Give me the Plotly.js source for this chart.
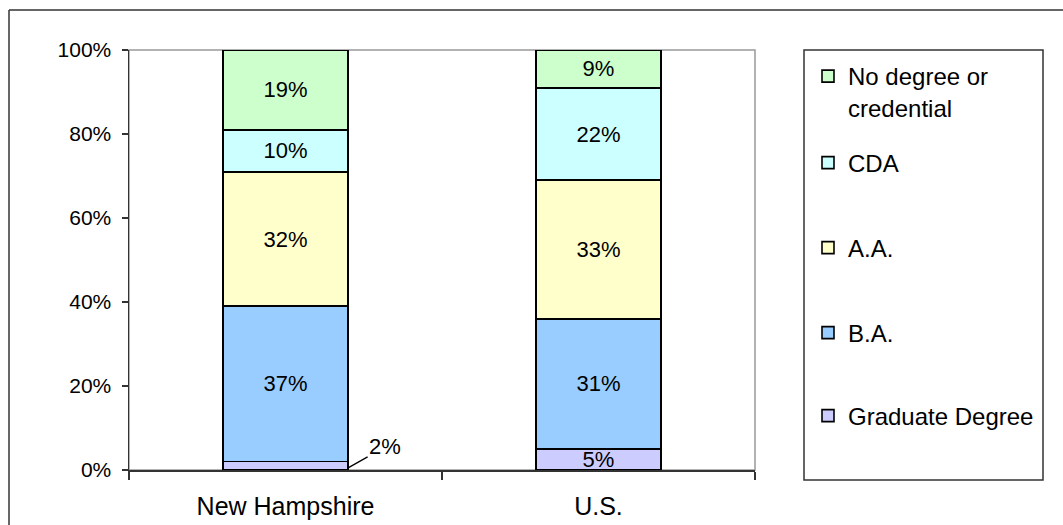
<!DOCTYPE html>
<html>
<head>
<meta charset="utf-8">
<script src="https://cdn.plot.ly/plotly-3.0.1.min.js"></script>
<style>
  html, body { margin: 0; padding: 0; background: #fff; }
  #chart { width: 1063px; height: 525px; }
</style>
</head>
<body>
<div id="chart"></div>
<script>
// ---- data ----
const categories = ["New Hampshire", "U.S."];
const seriesNames = ["Graduate Degree", "B.A.", "A.A.", "CDA", "No degree or<br>credential"];
const gradDegree = [2, 5];
const baDegree = [37, 31];
const aaDegree = [32, 33];
const cdaCredential = [10, 22];
const noDegree = [19, 9];
const tickValues = [0, 20, 40, 60, 80, 100];
const tickLabels = ["0%", "20%", "40%", "60%", "80%", "100%"];

// ---- styles ----
const colors = ["#CCCCFF", "#99CCFF", "#FFFFCC", "#CCFFFF", "#CCFFCC"];
const FONT = "Liberation Sans, Arial, sans-serif";
const seriesValues = [gradDegree, baDegree, aaDegree, cdaCredential, noDegree];

// plot area pixel geometry
const W = 1063, H = 525;
const L = 129, R = 755, T = 50, B = 470;
const px = v => (v - L) / (R - L);
const py = v => (B - v) / (B - T);

// legend item centre y (pixels) for each series
const legendY = [416, 333, 248, 163, 77];

const traces = seriesValues.map((vals, i) => ({
  type: "bar",
  name: seriesNames[i],
  x: categories,
  y: vals,
  text: vals.map((v, j) => (i === 0 && j === 0) ? "" : v + "%"),
  textposition: "inside",
  insidetextanchor: "middle",
  textangle: 0,
  textfont: { family: FONT, size: 22, color: "#000" },
  marker: { color: colors[i], line: { color: "#000", width: 1.6 } },
  hoverinfo: "skip",
  legend: i === 0 ? "legend" : "legend" + (i + 1)
}));

const legendBase = {
  xanchor: "left",
  x: px(808),
  bgcolor: "rgba(0,0,0,0)",
  borderwidth: 0,
  font: { family: FONT, size: 24, color: "#000" },
  valign: "top"
};

const layout = {
  width: W, height: H,
  margin: { l: L, r: W - R, t: T, b: H - B, pad: 0 },
  paper_bgcolor: "#fff",
  plot_bgcolor: "#fff",
  barmode: "stack",
  bargap: 0.6,
  uniformtext: { mode: "show", minsize: 22 },
  showlegend: true,
  font: { family: FONT, color: "#000" },
  xaxis: {
    type: "category",
    range: [-0.5, 1.5],
    showline: true, linecolor: "#333", linewidth: 1.5,
    ticks: "outside", tickson: "boundaries", ticklen: 8, tickcolor: "#333", tickwidth: 1.2,
    tickfont: { family: FONT, size: 25, color: "#000" },
    ticklabelstandoff: 13,
    showgrid: false, zeroline: false, fixedrange: true
  },
  yaxis: {
    range: [0, 100],
    tickvals: tickValues, ticktext: tickLabels,
    showline: true, linecolor: "#333", linewidth: 1.5,
    ticks: "outside", ticklen: 6, tickcolor: "#333", tickwidth: 1.2,
    tickfont: { family: FONT, size: 21, color: "#000" },
    ticklabelstandoff: 6,
    showgrid: false, zeroline: false, fixedrange: true
  },
  shapes: [
    // plot area border (gray)
    { type: "rect", xref: "paper", yref: "paper", x0: 0, x1: 1, y0: 0, y1: 1,
      line: { color: "#999", width: 1.5 }, layer: "below" },
    // outer chart frame (left and top visible)
    { type: "line", xref: "paper", yref: "paper", x0: px(9), x1: px(9), y0: py(10), y1: py(530),
      line: { color: "#333", width: 1.5 } },
    { type: "line", xref: "paper", yref: "paper", x0: px(9), x1: px(1070), y0: py(10), y1: py(10),
      line: { color: "#333", width: 1.5 } },
    // legend box
    { type: "rect", xref: "paper", yref: "paper", x0: px(804), x1: px(1043), y0: py(480), y1: py(50),
      line: { color: "#333", width: 1.5 } }
  ],
  annotations: [
    { x: 0.2, y: gradDegree[0] / 4, xref: "x", yref: "y",
      text: gradDegree[0] + "%", showarrow: true, arrowhead: 0, arrowwidth: 1.3, arrowcolor: "#000",
      ax: 37, ay: -21, font: { family: FONT, size: 22, color: "#000" } }
  ]
};

seriesNames.forEach((n, i) => {
  const key = i === 0 ? "legend" : "legend" + (i + 1);
  const isMulti = n.indexOf("<br>") >= 0;
  layout[key] = Object.assign({}, legendBase, {
    yanchor: isMulti ? "top" : "middle",
    y: isMulti ? py(legendY[i] - 23) : py(legendY[i])
  });
});

Plotly.newPlot("chart", traces, layout, { displayModeBar: false, staticPlot: true });
</script>
</body>
</html>
